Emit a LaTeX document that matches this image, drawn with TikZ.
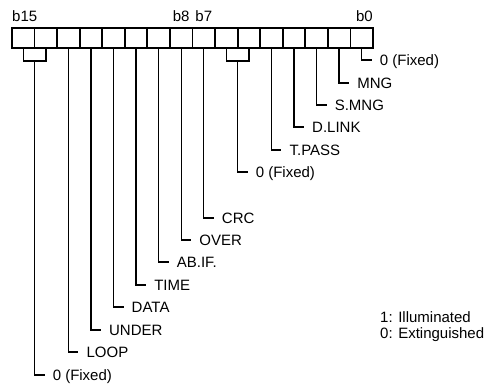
\documentclass[tikz,border=0pt]{standalone}
\usepackage{fontspec}
\setmainfont{Liberation Sans}
\usetikzlibrary{calc, positioning}

\begin{document}
\begin{tikzpicture}[
    x=1pt, y=-1pt,
    % Styles
    bitcell/.style={rectangle, draw=black, line width=1.8pt, minimum width=22.56pt, minimum height=20pt, inner sep=0pt, outer sep=0pt},
    bitnum/.style={font=\fontsize{15}{17}\selectfont, inner sep=0pt},
    leader/.style={draw=black, line width=1.4pt},
    lbl/.style={font=\fontsize{15}{17}\selectfont, inner sep=0pt, anchor=base west}
]
\useasboundingbox (0,0) rectangle (486,383);

% 1. REGISTER (b15 ... b0)
\foreach \b in {15,...,0}
    \node[bitcell] (bit\b) at ({12+22.56*(15.5-\b)}, 38) {};

\node[bitnum, anchor=base west] (n15) at ([yshift=7pt]bit15.north west) {b15};
\node[bitnum, anchor=base] (n8) at ([yshift=7pt]bit8.north) {b8};
\node[bitnum, anchor=base] (n7) at ([yshift=7pt]bit7.north) {b7};
\node[bitnum, anchor=base east] (n0) at ([yshift=7pt]bit0.north east) {b0};

% 2. SINGLE-BIT LEADERS
\foreach \b/\y/\txt in {0/60/0 (Fixed), 1/83/MNG, 2/105/S.MNG, 3/127/D.LINK, 4/150/T.PASS,
    7/218/CRC, 8/240/OVER, 9/262/AB.IF., 10/285/TIME, 11/307/DATA, 12/330/UNDER, 13/352/LOOP}{
    \node[lbl] (l\b) at ({12+22.56*(15.5-\b)+18}, \y+5) {\txt};
    \draw[leader] (bit\b.south) |- ([xshift=-8pt, yshift=5pt]l\b.base west);
}

% 3. PAIRED LEADERS (fixed bits)
\foreach \hi/\lo/\y in {15/14/375, 6/5/172}{
    \coordinate (m\hi) at ($(bit\hi.south)!0.5!(bit\lo.south)+(0,13)$);
    \draw[leader] (bit\hi.south) |- (m\hi) -| (bit\lo.south);
    \node[lbl] (l\hi) at ($(m\hi)+(18,{\y-61+5})$) {0 (Fixed)};
    \draw[leader] (m\hi) |- ([xshift=-8pt, yshift=5pt]l\hi.base west);
}

% 4. LEGEND
\node[lbl] (leg1) at (380, 322) {1: Illuminated};
\node[lbl] (leg0) at (380, 338) {0: Extinguished};

\end{tikzpicture}
\end{document}
